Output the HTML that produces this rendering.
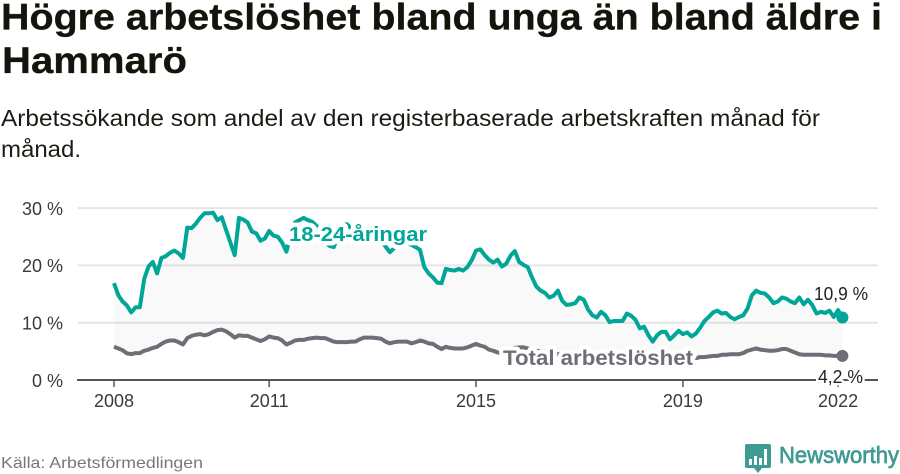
<!DOCTYPE html>
<html lang="sv">
<head>
<meta charset="utf-8">
<title>Högre arbetslöshet bland unga än bland äldre i Hammarö</title>
<style>
html,body{margin:0;padding:0;background:#fff;width:900px;height:474px;overflow:hidden}
svg{display:block}
text{font-family:"Liberation Sans",sans-serif}
.halo{paint-order:stroke;stroke:#fff;stroke-linejoin:round}
</style>
</head>
<body>
<svg id="chart" width="900" height="474" viewBox="0 0 900 474" xmlns="http://www.w3.org/2000/svg">
  <text x="1" y="29.5" font-size="37" font-weight="700" fill="#14140c" stroke="#14140c" stroke-width="0.3" textLength="881" lengthAdjust="spacingAndGlyphs">Högre arbetslöshet bland unga än bland äldre i</text>
  <text x="2" y="73" font-size="37" font-weight="700" fill="#14140c" stroke="#14140c" stroke-width="0.3" textLength="185" lengthAdjust="spacingAndGlyphs">Hammarö</text>
  <text x="1" y="126" font-size="23.5" fill="#1c1c16" textLength="819" lengthAdjust="spacingAndGlyphs">Arbetssökande som andel av den registerbaserade arbetskraften månad för</text>
  <text x="1" y="157" font-size="23.5" fill="#1c1c16" textLength="80" lengthAdjust="spacingAndGlyphs">månad.</text>

  <g id="grid"></g>
  <g id="xaxis"></g>
  <g id="marks"></g>
  <g id="labels"></g>

  <text x="1" y="468" font-size="16" fill="#777" textLength="202" lengthAdjust="spacingAndGlyphs">Källa: Arbetsförmedlingen</text>

  <g>
    <path d="M747 444h22a2 2 0 0 1 2 2v20a2 2 0 0 1-2 2h-7l-4 5-4-5h-7a2 2 0 0 1-2-2v-20a2 2 0 0 1 2-2z" fill="#3f9a92"/>
    <rect x="749" y="459" width="3" height="6" fill="#fff"/>
    <rect x="754" y="456" width="3" height="9" fill="#fff"/>
    <rect x="759" y="458" width="3" height="7" fill="#fff"/>
    <rect x="764" y="449" width="3" height="16" fill="#fff"/>
    <text x="779" y="463" font-size="23" font-weight="400" fill="#3f9a92" stroke="#3f9a92" stroke-width="0.7" textLength="120" lengthAdjust="spacingAndGlyphs">Newsworthy</text>
  </g>
</svg>
<script>
var startYear = 2008;
var yTicks = [0, 10, 20, 30];
var yTickLabels = ["0 %", "10 %", "20 %", "30 %"];
var xTickYears = [2008, 2011, 2015, 2019, 2022];
var youthSeries = [
16.9,14.8,13.7,13.0,11.8,12.7,12.7,17.6,19.8,20.6,18.6,21.3,
21.6,22.2,22.6,22.1,21.3,26.6,26.5,27.3,28.3,29.1,29.1,29.2,
27.9,28.4,26.2,24.0,21.8,28.3,28.0,27.5,25.9,25.6,24.3,24.7,
26.0,25.2,25.0,24.0,22.4,25.3,27.5,27.9,28.3,27.9,27.6,26.9,
25.3,24.1,23.4,23.2,25.2,26.9,27.2,26.5,25.8,25.4,25.6,26.4,
25.4,25.1,24.4,23.3,22.3,23.0,23.7,24.1,23.9,23.6,23.2,22.7,
19.7,18.6,17.9,17.0,16.9,19.4,19.2,19.1,19.4,19.1,19.7,20.9,
22.6,22.8,21.8,21.0,20.5,21.0,19.8,20.3,21.7,22.5,20.6,20.1,
19.7,17.9,16.3,15.6,15.2,14.4,14.7,15.6,13.8,13.1,13.2,13.4,
14.4,14.0,12.3,11.3,10.9,11.9,11.3,10.1,10.3,10.3,10.3,11.6,
11.2,10.5,9.0,9.3,7.8,6.7,7.8,8.4,8.4,7.1,7.8,8.6,
8.0,8.3,7.6,8.1,9.1,10.3,11.0,11.8,12.1,11.6,11.7,11.0,
10.6,11.0,11.3,12.5,14.8,15.6,15.2,15.1,14.4,13.4,13.7,14.4,
14.2,13.7,13.4,14.4,13.2,14.0,13.1,11.6,11.9,11.7,12.1,11.0,
12.2,10.9];
var totalSeries = [
5.8,5.5,5.2,4.65,4.5,4.7,4.7,5.1,5.3,5.6,5.8,6.3,
6.7,6.9,6.9,6.6,6.2,7.3,7.7,7.9,8.0,7.8,8.0,8.4,
8.7,8.8,8.5,8.0,7.4,7.8,7.7,7.7,7.4,7.1,6.8,7.1,
7.6,7.4,7.3,6.9,6.2,6.5,6.9,7.0,7.0,7.2,7.3,7.4,
7.3,7.3,7.0,6.7,6.6,6.6,6.6,6.7,6.7,7.1,7.4,7.4,
7.4,7.3,7.2,6.7,6.4,6.6,6.7,6.7,6.7,6.4,6.6,6.9,
6.7,6.4,6.3,5.8,5.4,5.8,5.6,5.5,5.5,5.5,5.7,6.0,
6.3,6.0,5.8,5.3,5.1,4.8,4.7,5.0,5.4,5.6,5.7,5.7,
5.5,5.3,5.1,5.0,4.9,4.7,4.6,4.5,4.6,4.6,4.4,4.3,
4.3,4.2,4.1,4.0,4.0,4.0,3.9,3.8,3.7,3.7,3.7,3.8,
3.8,3.7,3.6,3.5,3.5,3.5,3.6,3.6,3.6,3.6,3.7,3.7,
3.7,3.8,3.8,3.8,4.0,4.0,4.1,4.2,4.2,4.4,4.4,4.5,
4.5,4.5,4.7,5.1,5.3,5.5,5.3,5.2,5.1,5.1,5.2,5.4,
5.4,5.1,4.8,4.5,4.4,4.4,4.4,4.4,4.4,4.3,4.3,4.2,
4.2,4.2];
var youthLabel = "18-24-åringar";
var totalLabel = "Total arbetslöshet";
var youthEndLabel = "10,9 %";
var totalEndLabel = "4,2 %";

var SVG_NS = "http://www.w3.org/2000/svg";
var TEAL = "#00a698";
var GREY = "#6f6d75";
function xScale(monthIndex) { return 114 + monthIndex * 4.31; }
function yScale(value) { return 380 - value * 5.73; }
function yearToIndex(year) { return (year - startYear) * 12; }
function make(tag, parent, props) {
  var el = document.createElementNS(SVG_NS, tag);
  for (var k in props) { el.setAttribute(k, props[k]); }
  parent.appendChild(el);
  return el;
}
function linePath(series) {
  return series.map(function (v, i) {
    return (i ? "L" : "M") + xScale(i).toFixed(2) + " " + yScale(v).toFixed(2);
  }).join("");
}

var gridG = document.getElementById("grid");
yTicks.forEach(function (t, i) {
  if (t !== 0) {
    var gl = make("line", gridG, { x1: 78, x2: 878, y1: yScale(t), y2: yScale(t), stroke: "#e6e6e6", "stroke-width": 2 });
    
    
  }
  var tl = make("text", gridG, { x: 63, y: yScale(t) + 6.8, "text-anchor": "end", "font-size": 18, fill: "#3a3a3a" });
  
  
  tl.textContent = yTickLabels[i];
});

var marksG = document.getElementById("marks");
var areaD = linePath(youthSeries);
for (var j = totalSeries.length - 1; j >= 0; j--) {
  areaD += "L" + xScale(j).toFixed(2) + " " + yScale(totalSeries[j]).toFixed(2);
}
areaD += "Z";
var band = make("path", marksG, { d: areaD, fill: "#6f6d75", "fill-opacity": 0.04 });



var xG = document.getElementById("xaxis");
var axisLine = make("line", xG, { x1: 77, x2: 878, y1: 380, y2: 380, stroke: "#555", "stroke-width": 2 });


xTickYears.forEach(function (yr) {
  var px = xScale(yearToIndex(yr));
  var tk = make("line", xG, { x1: px, x2: px, y1: 380, y2: 387, stroke: "#555", "stroke-width": 1.5 });
  
  
  var lb = make("text", xG, { x: px, y: 407, "text-anchor": "middle", "font-size": 18, fill: "#3a3a3a" });
  
  
  lb.textContent = String(yr);
});

var totalLine = make("path", marksG, { d: linePath(totalSeries), fill: "none", stroke: GREY, "stroke-width": 4, "stroke-linejoin": "round" });


var youthLine = make("path", marksG, { d: linePath(youthSeries), fill: "none", stroke: TEAL, "stroke-width": 4, "stroke-linejoin": "round" });


var lastI = youthSeries.length - 1;
var youthDot = make("circle", marksG, { cx: xScale(lastI), cy: yScale(youthSeries[lastI]), r: 6, fill: TEAL });


var totalDot = make("circle", marksG, { cx: xScale(lastI), cy: yScale(totalSeries[lastI]), r: 6, fill: GREY });



var labelsG = document.getElementById("labels");
var a = make("text", labelsG, { x: 289, y: 241, "font-size": 20, "font-weight": 700, fill: TEAL, class: "halo", "stroke-width": 9, textLength: 138, lengthAdjust: "spacingAndGlyphs" });


a.textContent = youthLabel;
var b = make("text", labelsG, { x: 503, y: 365, "font-size": 21.5, "font-weight": 700, fill: GREY, class: "halo", "stroke-width": 8, textLength: 190, lengthAdjust: "spacingAndGlyphs" });


b.textContent = totalLabel;
var c = make("text", labelsG, { x: 814, y: 300, "font-size": 18, fill: "#222", class: "halo", "stroke-width": 5, textLength: 54, lengthAdjust: "spacingAndGlyphs" });


c.textContent = youthEndLabel;
var d = make("text", labelsG, { x: 818, y: 383, "font-size": 18, fill: "#222", class: "halo", "stroke-width": 5, textLength: 45, lengthAdjust: "spacingAndGlyphs" });


d.textContent = totalEndLabel;
</script>
</body>
</html>
